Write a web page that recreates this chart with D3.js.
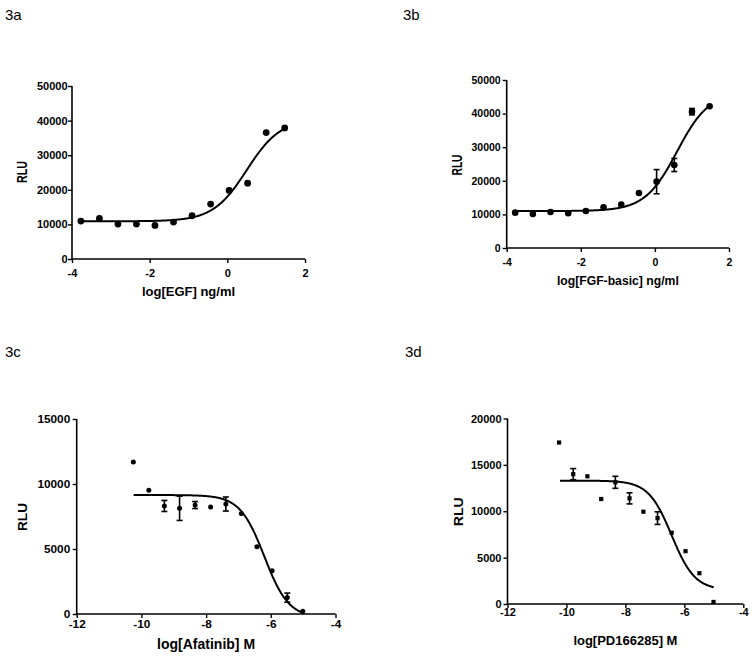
<!DOCTYPE html>
<html>
<head>
<meta charset="utf-8">
<script src="https://cdn.jsdelivr.net/npm/d3@7"></script>
<style>
  html, body { margin: 0; padding: 0; background: #fff; }
  svg { display: block; }
  text { font-family: "Liberation Sans", Arial, sans-serif; fill: #000; }
</style>
</head>
<body>
<svg id="chart" width="754" height="666"></svg>
<script>
// ---------- DATA ----------
// Panel 3a : EGF
const xA = [-3.771, -3.294, -2.817, -2.340, -1.863, -1.386, -0.908, -0.431, 0.046, 0.523, 1.000, 1.477];
const yA = [10960, 11730, 10100, 10100, 9710, 10670, 12500, 15870, 19810, 21920, 36540, 37880];
const errA = [0, 0, 0, 0, 0, 0, 0, 0, 0, 0, 0, 0];
const fitA = [10900, 40500, 0.5, 1.0];          // bottom, top, logEC50, hill
const fitRangeA = [-3.78, 1.48];

// Panel 3b : FGF-basic
const xB = [-3.771, -3.294, -2.817, -2.340, -1.863, -1.386, -0.908, -0.431, 0.046, 0.523, 1.000, 1.477];
const yB = [10520, 10120, 10710, 10320, 11010, 12100, 12900, 16370, 19740, 24700, 40580, 42160];
const errB = [0, 0, 0, 0, 0, 0, 0, 0, 3600, 1950, 950, 0];
const fitB = [11000, 46500, 0.6, 1.0];
const fitRangeB = [-3.78, 1.48];

// Panel 3c : Afatinib
const xC = [-10.25, -9.77, -9.29, -8.82, -8.34, -7.86, -7.39, -6.91, -6.43, -5.96, -5.49, -5.01];
const yC = [11690, 9510, 8310, 8130, 8380, 8230, 8460, 7740, 5180, 3330, 1260, 205];
const errC = [0, 0, 425, 935, 270, 0, 540, 0, 0, 0, 350, 0];
const fitC = [-300, 9150, -6.2, -1.15];
const fitRangeC = [-10.24, -4.98];

// Panel 3d : PD166285
const xD = [-10.25, -9.77, -9.29, -8.82, -8.34, -7.86, -7.39, -6.91, -6.43, -5.96, -5.49, -5.01];
const yD = [17410, 14000, 13770, 11320, 13120, 11390, 9950, 9260, 7680, 5690, 3320, 220];
const errD = [0, 600, 0, 0, 650, 600, 0, 680, 0, 0, 0, 0];
const fitD = [1500, 13300, -6.43, -1.1];
const fitRangeD = [-10.22, -5.0];

// tick values / labels
const titles = ["3a", "3b", "3c", "3d"];
const xLabels = ["log[EGF] ng/ml", "log[FGF-basic] ng/ml", "log[Afatinib] M", "log[PD166285] M"];
const yLabel = "RLU";
const xTicksTop = [-4, -2, 0, 2];
const yTicksTop = [0, 10000, 20000, 30000, 40000, 50000];
const xTicksBottom = [-12, -10, -8, -6, -4];
const yTicksC = [0, 5000, 10000, 15000];
const yTicksD = [0, 5000, 10000, 15000, 20000];

// ---------- LAYOUT ----------
const panels = [
  { x: xA, y: yA, err: errA, fit: fitA, fr: fitRangeA, xd: [-4, 2], yd: [0, 50000], xt: xTicksTop, yt: yTicksTop,
    xr: [72, 305], yr: [259, 86], title: [5, 20], marker: "circle", ms: 3.4,
    tickFont: 11, xTickOff: 14.5, yTickGap: 4.5, xlFont: 13, xlY: 295.5,
    rlu: [21.5, 172], rluFont: 14.5, rluLen: 22 },
  { x: xB, y: yB, err: errB, fit: fitB, fr: fitRangeB, xd: [-4, 2], yd: [0, 50000], xt: xTicksTop, yt: yTicksTop,
    xr: [506.7, 729], yr: [248, 80], title: [403, 20], marker: "circle", ms: 3.3,
    tickFont: 10.5, xTickOff: 14.5, yTickGap: 6, xlFont: 12.2, xlY: 285,
    rlu: [457, 165], rluFont: 14, rluLen: 21 },
  { x: xC, y: yC, err: errC, fit: fitC, fr: fitRangeC, xd: [-12, -4], yd: [0, 15000], xt: xTicksBottom, yt: yTicksC,
    xr: [76.7, 335.5], yr: [614, 419], title: [5, 357], marker: "circle", ms: 2.5,
    tickFont: 11.8, xTickOff: 9.5, yTickGap: 6.5, xlFont: 14, xlY: 648.5,
    rlu: [22, 517], rluFont: 13.5, rluLen: 28 },
  { x: xD, y: yD, err: errD, fit: fitD, fr: fitRangeD, xd: [-12, -4], yd: [0, 20000], xt: xTicksBottom, yt: yTicksD,
    xr: [507.5, 743.3], yr: [604, 418.5], title: [405, 357], marker: "square", ms: 4.2,
    tickFont: 11, xTickOff: 8.5, yTickGap: 6, xlFont: 13, xlY: 645,
    rlu: [458.3, 511.7], rluFont: 13.5, rluLen: 29 }
];

const svg = d3.select("#chart");
svg.append("rect").attr("width", 754).attr("height", 666).attr("fill", "#fff");

panels.forEach((p, i) => {
  const xs = d3.scaleLinear().domain(p.xd).range(p.xr);
  const ys = d3.scaleLinear().domain(p.yd).range(p.yr);
  const g = svg.append("g");

  // title
  g.append("text").attr("x", p.title[0]).attr("y", p.title[1])
    .attr("font-size", 15).text(titles[i]);

  // x axis
  const xAxis = d3.axisBottom(xs).tickValues(p.xt).tickSize(4).tickPadding(0)
    .tickFormat(d => String(d)).tickSizeOuter(0);
  const gx = g.append("g").attr("transform", `translate(0,${p.yr[0]})`).call(xAxis);
  gx.select(".domain").attr("stroke-width", 1.6).attr("d", `M${p.xr[0]},0H${p.xr[1]}`);
  gx.selectAll(".tick line").attr("stroke-width", 1.4);
  gx.selectAll(".tick text").attr("y", p.xTickOff).attr("dy", "0.36em")
    .attr("font-size", p.tickFont).attr("font-weight", "bold")
    .attr("font-family", '"Liberation Sans", Arial, sans-serif');

  // y axis
  const yAxis = d3.axisLeft(ys).tickValues(p.yt).tickSize(4).tickPadding(p.yTickGap - 4)
    .tickFormat(d => String(d)).tickSizeOuter(0);
  const gy = g.append("g").attr("transform", `translate(${p.xr[0]},0)`).call(yAxis);
  gy.select(".domain").attr("stroke-width", 1.6).attr("d", `M0,${p.yr[0] + 0.8}V${p.yr[1]}`);
  gy.selectAll(".tick line").attr("stroke-width", 1.4);
  gy.selectAll(".tick text").attr("font-size", p.tickFont).attr("font-weight", "bold")
    .attr("font-family", '"Liberation Sans", Arial, sans-serif');

  // axis labels
  g.append("text").attr("x", (p.xr[0] + p.xr[1]) / 2).attr("y", p.xlY)
    .attr("text-anchor", "middle").attr("font-size", p.xlFont).attr("font-weight", "bold")
    .text(xLabels[i]);
  g.append("text")
    .attr("transform", `translate(${p.rlu[0]},${p.rlu[1]}) rotate(-90)`)
    .attr("text-anchor", "middle").attr("dy", "0.36em")
    .attr("font-size", p.rluFont).attr("font-weight", "bold")
    .attr("textLength", p.rluLen).attr("lengthAdjust", "spacingAndGlyphs")
    .text(yLabel);

  // fitted 4PL curve
  const [bot, top, c, h] = p.fit;
  const f = x => bot + (top - bot) / (1 + Math.pow(10, (c - x) * h));
  const xsamp = d3.range(p.fr[0], p.fr[1], 0.02).concat([p.fr[1]]);
  const line = d3.line().x(d => xs(d)).y(d => ys(Math.max(f(d), 0)));
  g.append("path").attr("d", line(xsamp)).attr("fill", "none")
    .attr("stroke", "#000").attr("stroke-width", 2);

  // data points
  const pts = p.x.map((xv, k) => ({ x: xv, y: p.y[k], e: p.err[k] }));
  const eb = g.append("g").attr("stroke", "#000").attr("stroke-width", 1.6);
  pts.filter(d => d.e > 0).forEach(d => {
    const cx = xs(d.x), y1 = ys(d.y + d.e), y2 = ys(d.y - d.e);
    eb.append("line").attr("x1", cx).attr("x2", cx).attr("y1", y1).attr("y2", y2);
    eb.append("line").attr("x1", cx - 3).attr("x2", cx + 3).attr("y1", y1).attr("y2", y1);
    eb.append("line").attr("x1", cx - 3).attr("x2", cx + 3).attr("y1", y2).attr("y2", y2);
  });
  if (p.marker === "circle") {
    g.selectAll("circle.pt").data(pts).enter().append("circle")
      .attr("cx", d => xs(d.x)).attr("cy", d => ys(d.y)).attr("r", p.ms).attr("fill", "#000");
  } else {
    g.selectAll("rect.pt").data(pts).enter().append("rect")
      .attr("x", d => xs(d.x) - p.ms / 2).attr("y", d => ys(d.y) - p.ms / 2)
      .attr("width", p.ms).attr("height", p.ms).attr("fill", "#000");
  }
});
</script>
</body>
</html>
